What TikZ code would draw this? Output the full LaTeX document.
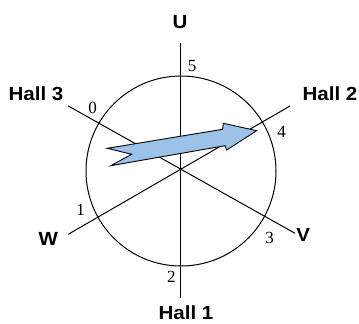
\documentclass[tikz,border=0pt]{standalone}
\usepackage{fontspec}
\newfontfamily\labfont{Liberation Sans}
\newfontfamily\numfont{Liberation Serif}
\definecolor{arrowblue}{RGB}{155,194,232}
\begin{document}
\begin{tikzpicture}[x=1pt,y=-1pt,
  axis/.style={line width=1.0pt},
  lab/.style={font=\labfont\fontsize{19}{20}\selectfont\bfseries, inner sep=0pt, xscale=1.08},
  num/.style={font=\numfont\fontsize{17}{18}\selectfont, inner sep=0pt}]
\useasboundingbox (0,0) rectangle (359,324);
% circle
\draw[line width=1.0pt] (181,171) circle (95);
% axis end points
\coordinate (o) at (180,170);
\coordinate (ut) at (180.2,42.7);
\coordinate (ub) at (180.2,297.7);
\coordinate (h3) at (68.3,106);
\coordinate (ve) at (295,233.3);
\coordinate (we) at (68.3,234.3);
\coordinate (h2) at (290,106);
\draw[axis] (ut) -- (ub);
\draw[axis] (h3) -- (ve);
\draw[axis] (we) -- (h2);
% labels
\node[lab] (U) at (180,22) {U};
\node[lab] (H3) at (36,93.7) {Hall 3};
\node[lab] (H2) at (330,93.7) {Hall 2};
\node[lab] (W) at (48.3,238.7) {W};
\node[lab] (V) at (303.3,235) {V};
\node[lab] (H1) at (186,313) {Hall 1};
% numbers
\node[num] (n5) at (192,66) {5};
\node[num] (n0) at (92.5,107.5) {0};
\node[num] (n4) at (281.7,132) {4};
\node[num] (n1) at (80.5,210) {1};
\node[num] (n3) at (269.5,238) {3};
\node[num] (n2) at (171.3,277) {2};
% arrow
\draw[line width=0.9pt, fill=arrowblue, line join=miter]
  (107.3,148.3) -- (222.7,129.3) -- (223.3,123.3) -- (256.7,130.7)
  -- (226.7,150) -- (225,145.7) -- (110.7,165.7) -- (131.7,154.3) -- cycle;
\end{tikzpicture}
\end{document}
